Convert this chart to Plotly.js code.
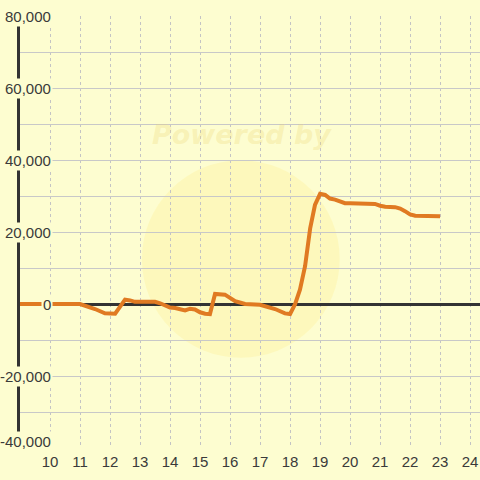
<!DOCTYPE html>
<html><head><meta charset="utf-8">
<script src="https://cdn.plot.ly/plotly-3.0.1.min.js"></script>
<style>html,body{margin:0;padding:0;background:#fdfdd0;}#chart{width:480px;height:480px;}</style>
</head><body><div id="chart"></div>
<script>
// hours of day
var hours = [9, 11, 11.5, 11.83, 12.17, 12.5, 12.67, 12.83, 13.5, 13.67, 14, 14.17, 14.5, 14.67, 14.83, 15, 15.17, 15.33, 15.5, 15.83, 16.17, 16.5, 17, 17.5, 17.83, 18, 18.17, 18.33, 18.5, 18.67, 18.83, 19, 19.17, 19.33, 19.5, 19.67, 19.83, 20, 20.5, 20.83, 21, 21.17, 21.5, 21.67, 21.83, 22, 22.17, 22.5, 23];
var values = [0, 0, -1400, -2600, -2700, 1200, 1000, 600, 600, 200, -1000, -1100, -1800, -1300, -1500, -2300, -2700, -2800, 2800, 2600, 800, 0, -200, -1400, -2600, -2800, 0, 4000, 10500, 21000, 27500, 30600, 30300, 29300, 29000, 28600, 28000, 28000, 28000, 27800, 27300, 27000, 26900, 26500, 25800, 24900, 24500, 24400, 24400];
var xTickVals = [10,11,12,13,14,15,16,17,18,19,20,21,22,23,24];
var yTickVals = [80000, 60000, 40000, 20000, 0, -20000, -40000];
var yTickText = ["80,000", "60,000", "40,000", "20,000", "0", "-20,000", "-40,000"];

var bg = '#fdfdd0';
var annotations = yTickVals.map(function(v, i){
  return {xref:'paper', yref:'y', x:0.0717, y:v, xanchor:'right', yanchor:'middle',
    yshift: (i === yTickVals.length - 1) ? 7 : 0,
    text:yTickText[i], showarrow:false, bgcolor:bg, borderpad:1,
    font:{family:'Liberation Sans, Arial, sans-serif', size:15, color:'#3a3a3a'}};
});
annotations.push({xref:'paper', yref:'paper', x:0.482, y:0.725, yanchor:'middle', text:'<b><i>Powered by</i></b>', showarrow:false,
  font:{family:'DejaVu Sans, sans-serif', size:27, color:'rgba(236,214,120,0.3)'}});

var trace = {x: hours, y: values, type:'scatter', mode:'lines',
  line:{color:'#e07a22', width:4}, hoverinfo:'skip'};

var layout = {
  width:480, height:480,
  margin:{l:20, r:0, t:16, b:32},
  paper_bgcolor:bg, plot_bgcolor:bg,
  showlegend:false,
  xaxis:{range:[9, 24.33], tickvals:xTickVals, ticks:'', showgrid:true, gridcolor:'#c4c4c4', griddash:'dot', gridwidth:1,
    zeroline:false, showline:false, ticklabelstandoff:3,
    tickfont:{family:'Liberation Sans, Arial, sans-serif', size:15, color:'#3a3a3a'}},
  yaxis:{range:[-40000, 80000], tickvals:[80000,70000,60000,50000,40000,30000,20000,10000,0,-10000,-20000,-30000,-40000],
    showticklabels:false, ticks:'', showgrid:true, gridcolor:'#c8c8c8', gridwidth:1,
    zeroline:true, zerolinecolor:'#333', zerolinewidth:3,
    showline:true, linecolor:'#333', linewidth:3},
  shapes:[{type:'circle', xref:'paper', yref:'paper', x0:0.265, x1:0.695, y0:0.209, y1:0.666,
    fillcolor:'rgba(255,232,120,0.22)', line:{width:0}, layer:'below'}],
  annotations: annotations
};
Plotly.newPlot('chart', [trace], layout, {staticPlot:true, displayModeBar:false});
</script></body></html>
